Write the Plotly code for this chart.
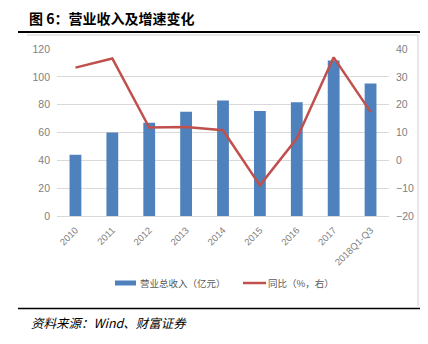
import plotly.graph_objects as go

# Revenue (100M CNY) and year-over-year growth (%)
periods = ["2010", "2011", "2012", "2013", "2014", "2015", "2016", "2017", "2018Q1-Q3"]
revenue = [44, 60, 67, 75, 83, 75.5, 81.7, 111.8, 95.2]
growth = [33.3, 36.6, 11.8, 12.0, 10.8, -9.0, 7.8, 37.0, 17.4]

bar_name = "营业总收入（亿元）"
line_name = "同比（%，右）"
title_text = "图 6：营业收入及增速变化"
source_text = "资料来源：Wind、财富证券"

BLUE = "#4f81bd"
RED = "#c0504d"
TICK_GRAY = "#7f7f7f"
GRID = "#d9d9d9"

W, H = 428, 344
ML, MR, MT, MB = 57, 39, 49, 128
PW, PH = W - ML - MR, H - MT - MB


def px(x):
    return (x - ML) / PW


def py(y):
    return (H - MB - y) / PH


fig = go.Figure()
fig.add_trace(go.Bar(
    x=periods, y=revenue, name=bar_name, marker=dict(color=BLUE, line=dict(width=0)),
    width=0.32, showlegend=False, yaxis="y",
))
fig.add_trace(go.Scatter(
    x=periods, y=growth, name=line_name, mode="lines",
    line=dict(color=RED, width=2.5), showlegend=False, yaxis="y2",
))

tick_font = dict(family="Liberation Sans, Arial", size=10.5, color=TICK_GRAY)

shapes = [
    # heavy rule under the title
    dict(type="line", xref="paper", yref="paper", x0=px(18), x1=px(420), y0=py(32), y1=py(32),
         line=dict(color="black", width=2)),
    # chart frame (top and right edges)
    dict(type="line", xref="paper", yref="paper", x0=px(27), x1=px(418), y0=py(35), y1=py(35),
         line=dict(color="#d0d0d0", width=1)),
    dict(type="line", xref="paper", yref="paper", x0=px(418), x1=px(418), y0=py(35), y1=py(306),
         line=dict(color="#d0d0d0", width=1)),
    # rule above the source note
    dict(type="line", xref="paper", yref="paper", x0=px(18), x1=px(420), y0=py(308.5), y1=py(308.5),
         line=dict(color="black", width=1.6)),
    # legend keys
    dict(type="rect", xref="paper", yref="paper", x0=px(115), x1=px(136), y0=py(285.5), y1=py(280.5),
         fillcolor=BLUE, line=dict(width=0)),
    dict(type="line", xref="paper", yref="paper", x0=px(243), x1=px(266), y0=py(283), y1=py(283),
         line=dict(color=RED, width=2.5)),
]

annotations = [
    dict(text="<b>" + title_text + "</b>", xref="paper", yref="paper", x=px(27), y=py(18),
         xanchor="left", yanchor="middle", showarrow=False,
         font=dict(family="Noto Sans CJK SC", size=14, color="black")),
    dict(text="<i>" + source_text + "</i>", xref="paper", yref="paper", x=px(29), y=py(322),
         xanchor="left", yanchor="middle", showarrow=False,
         font=dict(family="Noto Sans CJK SC", size=12.5, color="black")),
    dict(text=bar_name, xref="paper", yref="paper", x=px(138), y=py(283),
         xanchor="left", yanchor="middle", showarrow=False,
         font=dict(family="Noto Sans CJK SC", size=9.5, color="#595959")),
    dict(text=line_name, xref="paper", yref="paper", x=px(266), y=py(283),
         xanchor="left", yanchor="middle", showarrow=False,
         font=dict(family="Noto Sans CJK SC", size=9.5, color="#595959")),
]

fig.update_layout(
    width=W, height=H,
    margin=dict(l=ML, r=MR, t=MT, b=MB, pad=0),
    paper_bgcolor="white", plot_bgcolor="white",
    showlegend=False,
    xaxis=dict(
        type="category", range=[-0.5, 8.5], tickangle=-45,
        tickfont=dict(family="Liberation Sans, Arial", size=9.5, color=TICK_GRAY),
        showgrid=False, showline=True, linecolor=GRID, linewidth=1, ticks="", zeroline=False,
        ticklabelstandoff=4,
    ),
    yaxis=dict(
        range=[0, 120], dtick=20, tickfont=tick_font, showgrid=True, gridcolor=GRID, gridwidth=1,
        zeroline=False, showline=False, ticks="", ticklabelstandoff=6,
    ),
    yaxis2=dict(
        range=[-20, 40], dtick=10, tickfont=tick_font, overlaying="y", side="right",
        showgrid=False, zeroline=False, showline=False, ticks="", ticklabelstandoff=6,
    ),
    shapes=shapes,
    annotations=annotations,
)

fig.write_html("out.html")
